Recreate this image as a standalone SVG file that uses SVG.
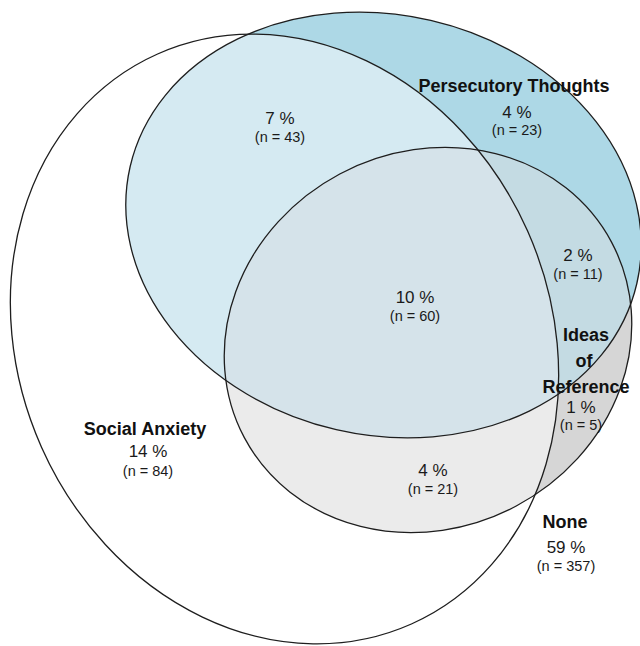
<svg xmlns="http://www.w3.org/2000/svg" width="640" height="646" viewBox="0 0 640 646">
<style>
.outline{fill:none;stroke:#1e1e1e;stroke-width:1.3}
.lbl{font-family:"Liberation Sans",Arial,sans-serif;font-weight:bold;font-size:18px;fill:#111;text-anchor:middle}
.pct{font-family:"Liberation Sans",Arial,sans-serif;font-size:17px;fill:#1a1a1a;text-anchor:middle}
.n{font-family:"Liberation Sans",Arial,sans-serif;font-size:14.5px;fill:#1a1a1a;text-anchor:middle}
</style>
<defs>
<ellipse id="eSA" cx="284.5" cy="339" rx="266" ry="312" transform="rotate(-24 284.5 339)"/>
<ellipse id="ePT" cx="383.5" cy="225" rx="260" ry="210" transform="rotate(13 383.5 225)"/>
<ellipse id="eIR" cx="428" cy="340" rx="208" ry="188" transform="rotate(-28 428 340)"/>
<clipPath id="cSA"><use href="#eSA"/></clipPath>
<clipPath id="cPT"><use href="#ePT"/></clipPath>
</defs>
<rect width="640" height="646" fill="#ffffff"/>
<g id="regions">
<use href="#ePT" fill="#ADD8E6"/>
<use href="#eIR" fill="#D6D6D6"/>
<use href="#eIR" fill="#C4DBE3" clip-path="url(#cPT)"/>
<use href="#ePT" fill="#D5EAF2" clip-path="url(#cSA)"/>
<use href="#eIR" fill="#EBEBEB" clip-path="url(#cSA)"/>
<g clip-path="url(#cSA)"><use href="#eIR" fill="#D5E3EA" clip-path="url(#cPT)"/></g>
</g>
<g id="social-anxiety">
<use href="#eSA" class="outline"/>
<text class="lbl" x="145" y="435">Social Anxiety</text>
<text class="pct" x="148" y="457">14 %</text>
<text class="n" x="148" y="476">(n = 84)</text>
</g>
<g id="persecutory-thoughts">
<use href="#ePT" class="outline"/>
<text class="lbl" x="514" y="92">Persecutory Thoughts</text>
<text class="pct" x="517" y="118">4 %</text>
<text class="n" x="517" y="135">(n = 23)</text>
</g>
<g id="ideas-of-reference">
<use href="#eIR" class="outline"/>
<text class="lbl" x="586" y="341">Ideas</text>
<text class="lbl" x="584" y="367">of</text>
<text class="lbl" x="586" y="393">Reference</text>
<text class="pct" x="581" y="413">1 %</text>
<text class="n" x="581" y="430">(n = 5)</text>
</g>
<g id="intersections">
<text class="pct" x="280" y="124">7 %</text>
<text class="n" x="280" y="142">(n = 43)</text>
<text class="pct" x="415" y="303">10 %</text>
<text class="n" x="415" y="321">(n = 60)</text>
<text class="pct" x="578" y="261">2 %</text>
<text class="n" x="578" y="279">(n = 11)</text>
<text class="pct" x="433" y="476">4 %</text>
<text class="n" x="433" y="494">(n = 21)</text>
</g>
<g id="none">
<text class="lbl" x="565" y="528">None</text>
<text class="pct" x="566" y="553">59 %</text>
<text class="n" x="566" y="571">(n = 357)</text>
</g>
<g id="connectors"/>
</svg>
